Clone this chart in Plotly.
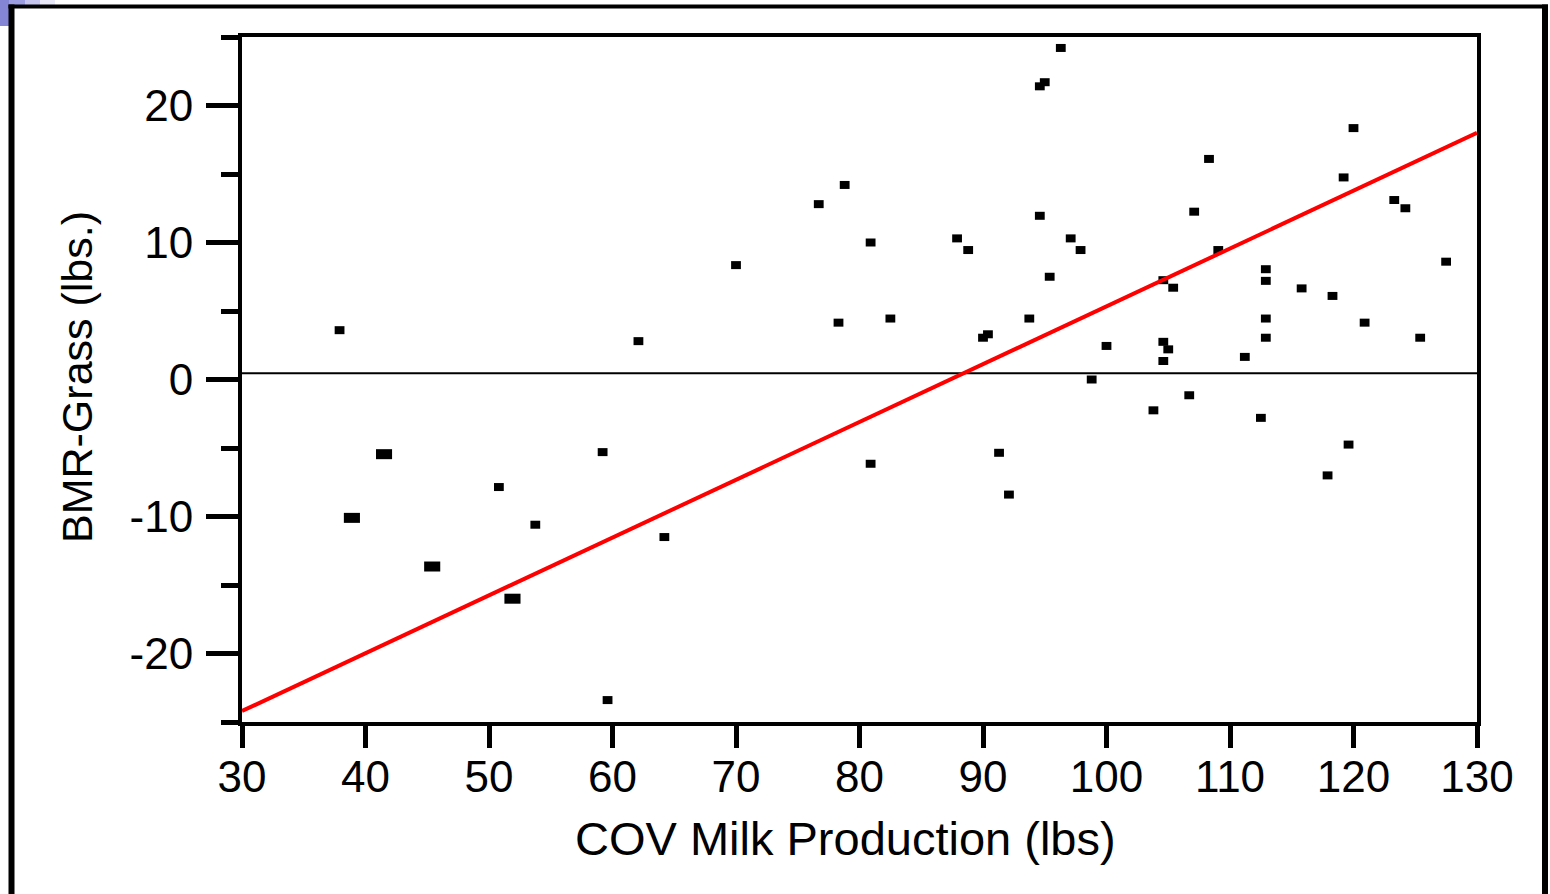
import plotly.graph_objects as go

# ---------------- data ----------------
x_small = [37.9, 62.1, 59.2, 50.8, 53.75, 64.2, 59.6,
           78.8, 76.7, 80.9, 87.9, 88.8, 70.0, 78.3, 82.5, 80.9,
           96.3, 95.0, 94.6, 108.3, 107.1, 94.6, 97.1, 97.9, 109.05,
           95.4, 104.6, 105.4, 93.75, 90.4, 90.0, 100.0, 104.6, 105.0,
           104.6, 98.8, 106.7, 103.8, 91.3, 92.1,
           120.0, 119.2, 123.3, 124.2, 127.5, 112.9, 112.9, 115.8, 118.3,
           112.9, 120.9, 112.9, 125.4, 111.2, 112.5, 119.6, 117.9]
y_small = [3.6, 2.8, -5.3, -7.85, -10.6, -11.5, -23.4,
           14.2, 12.8, 10.0, 10.3, 9.45, 8.35, 4.15, 4.45, -6.15,
           24.2, 21.7, 21.4, 16.1, 12.25, 11.95, 10.3, 9.45, 9.45,
           7.5, 7.25, 6.7, 4.45, 3.3, 3.05, 2.45, 2.75, 2.2,
           1.35, 0.0, -1.15, -2.25, -5.35, -8.4,
           18.35, 14.75, 13.1, 12.5, 8.6, 8.05, 7.2, 6.65, 6.1,
           4.45, 4.15, 3.05, 3.05, 1.65, -2.8, -4.75, -7.0]
x_large = [38.9, 41.5, 45.4, 51.9]
y_large = [-10.1, -5.45, -13.65, -16.0]

fit_x = [30, 130]
fit_y = [-24.2, 18.0]
ref_x = [30, 130]
ref_y = [0.45, 0.45]

x_ticks = [30, 40, 50, 60, 70, 80, 90, 100, 110, 120, 130]
y_ticks = [-20, -10, 0, 10, 20]
y_tick_text = ["-20", "-10", "0", "10", "20"]

x_title = "COV Milk Production (lbs)"
y_title = "BMR-Grass (lbs.)"

# ---------------- layout geometry ----------------
W, H = 1550, 894
L, R, T, B = 242, 73, 37, 172
PW, PH = W - L - R, H - T - B


def px(x):
    return (x - L) / PW


def py(y):
    return (H - B - y) / PH


FONT = "Liberation Sans, Arial, sans-serif"

fig = go.Figure()
fig.add_trace(go.Scatter(
    x=x_small, y=y_small, mode="markers",
    marker=dict(symbol="line-ew", size=7, color="black",
                line=dict(color="black", width=8)),
    showlegend=False, hoverinfo="x+y"))
fig.add_trace(go.Scatter(
    x=x_large, y=y_large, mode="markers",
    marker=dict(symbol="line-ew", size=11.5, color="black",
                line=dict(color="black", width=10)),
    showlegend=False, hoverinfo="x+y"))
fig.add_trace(go.Scatter(
    x=ref_x, y=ref_y, mode="lines",
    line=dict(color="black", width=2), showlegend=False, hoverinfo="skip"))
fig.add_trace(go.Scatter(
    x=fit_x, y=fit_y, mode="lines",
    line=dict(color="#ff0000", width=4), showlegend=False, hoverinfo="skip"))

shapes = [
    # slide decoration (blue corner)
    dict(type="rect", xref="paper", yref="paper", x0=px(0), x1=px(9), y0=py(26), y1=py(0),
         fillcolor="#8585d6", line=dict(width=0), layer="below"),
    dict(type="rect", xref="paper", yref="paper", x0=px(9), x1=px(25), y0=py(5), y1=py(0),
         fillcolor="#9c9ce0", line=dict(width=0), layer="below"),
    dict(type="rect", xref="paper", yref="paper", x0=px(25), x1=px(40), y0=py(5), y1=py(0),
         fillcolor="#c4c4ee", line=dict(width=0), layer="below"),
    dict(type="rect", xref="paper", yref="paper", x0=px(40), x1=px(55), y0=py(5), y1=py(0),
         fillcolor="#e8e8f8", line=dict(width=0), layer="below"),
    # outer slide frame
    dict(type="line", xref="paper", yref="paper", x0=px(11.5), x1=px(11.5), y0=py(4.5), y1=py(900),
         line=dict(color="black", width=6)),
    dict(type="line", xref="paper", yref="paper", x0=px(8.5), x1=px(1548), y0=py(6.5), y1=py(6.5),
         line=dict(color="black", width=4)),
    dict(type="line", xref="paper", yref="paper", x0=px(1545), x1=px(1545), y0=py(4.5), y1=py(900),
         line=dict(color="black", width=6)),
]

annotations = [
    dict(text=x_title, xref="paper", yref="paper", x=px(845), y=py(838),
         xanchor="center", yanchor="middle", showarrow=False,
         font=dict(family=FONT, size=47, color="black")),
    dict(text=y_title, xref="paper", yref="paper", x=px(77), y=py(377),
         xanchor="center", yanchor="middle", showarrow=False, textangle=-90,
         font=dict(family=FONT, size=43, color="black")),
]

fig.update_layout(
    width=W, height=H,
    margin=dict(l=L, r=R, t=T, b=B),
    paper_bgcolor="white", plot_bgcolor="white",
    shapes=shapes, annotations=annotations,
    font=dict(family=FONT, color="black"),
    xaxis=dict(range=[30, 130], tickmode="array", tickvals=x_ticks,
               ticks="outside", ticklen=22, tickwidth=5, tickcolor="black",
               showline=True, linewidth=4, linecolor="black", mirror=True,
               showgrid=False, zeroline=False, ticklabelstandoff=-9,
               tickfont=dict(family=FONT, size=44, color="black")),
    yaxis=dict(range=[-25, 25], tickmode="array", tickvals=y_ticks, ticktext=y_tick_text,
               ticks="outside", ticklen=32, tickwidth=5, tickcolor="black",
               showline=True, linewidth=4, linecolor="black", mirror=True,
               showgrid=False, zeroline=False, ticklabelstandoff=4,
               minor=dict(tickmode="linear", tick0=-25, dtick=5, ticks="outside",
                          ticklen=17, tickwidth=5, tickcolor="black", showgrid=False),
               tickfont=dict(family=FONT, size=44, color="black")),
)

fig.write_html("out.html")
